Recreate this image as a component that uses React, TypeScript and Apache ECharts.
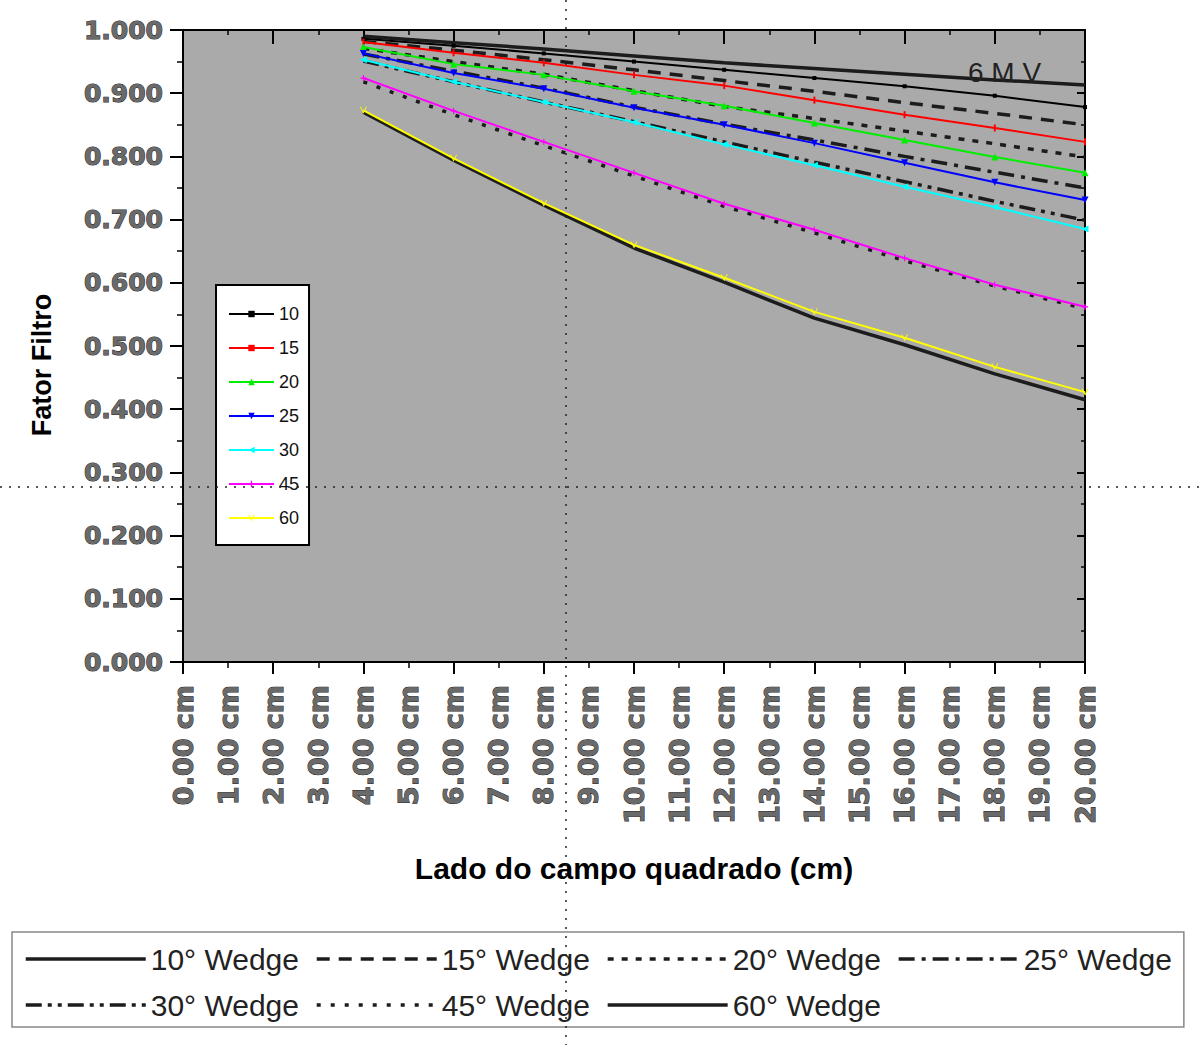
import React, { useEffect, useRef } from "react";
import * as echarts from "echarts";

// Field side (cm) where points were measured
const fieldSizes = [4, 6, 8, 10, 12, 14, 16, 18, 20];

// Measured series (coloured)
const measuredNames = ["10", "15", "20", "25", "30", "45", "60"];
const m10 = [0.986, 0.975, 0.963, 0.95, 0.937, 0.924, 0.911, 0.896, 0.878];
const m15 = [0.981, 0.964, 0.948, 0.929, 0.912, 0.889, 0.866, 0.845, 0.823];
const m20 = [0.973, 0.946, 0.929, 0.903, 0.88, 0.853, 0.826, 0.799, 0.774];
const m25 = [0.963, 0.932, 0.907, 0.877, 0.85, 0.821, 0.79, 0.759, 0.731];
const m30 = [0.953, 0.918, 0.886, 0.854, 0.819, 0.786, 0.752, 0.72, 0.685];
const m45 = [0.924, 0.872, 0.823, 0.774, 0.725, 0.684, 0.639, 0.597, 0.562];
const m60 = [0.873, 0.797, 0.726, 0.66, 0.608, 0.554, 0.513, 0.467, 0.427];

// Reference wedge curves (black)
const wedgeNames = [
  "10° Wedge",
  "15° Wedge",
  "20° Wedge",
  "25° Wedge",
  "30° Wedge",
  "45° Wedge",
  "60° Wedge",
];
const w10 = [0.99, 0.98, 0.97, 0.959, 0.948, 0.939, 0.93, 0.921, 0.913];
const w15 = [0.982, 0.968, 0.953, 0.937, 0.92, 0.903, 0.885, 0.868, 0.85];
const w20 = [0.971, 0.95, 0.93, 0.904, 0.879, 0.86, 0.84, 0.82, 0.799];
const w25 = [0.962, 0.935, 0.908, 0.878, 0.851, 0.826, 0.8, 0.775, 0.75];
const w30 = [0.951, 0.918, 0.886, 0.855, 0.823, 0.791, 0.76, 0.729, 0.699];
const w45 = [0.918, 0.866, 0.817, 0.769, 0.721, 0.679, 0.635, 0.595, 0.559];
const w60 = [0.87, 0.794, 0.723, 0.655, 0.601, 0.544, 0.502, 0.456, 0.415];

// Axis tick label values
const xLabelValues = [0, 1, 2, 3, 4, 5, 6, 7, 8, 9, 10, 11, 12, 13, 14, 15, 16, 17, 18, 19, 20];

const measuredValues = [m10, m15, m20, m25, m30, m45, m60];
const wedgeValues = [w10, w15, w20, w25, w30, w45, w60];

const measuredColors = ["#000000", "#ff0000", "#00ee00", "#0000ff", "#00ffff", "#ff00ff", "#ffff00"];
const measuredSymbols: any[] = [
  { symbol: "rect", size: 4, rotate: 0 },
  { symbol: "rect", size: [2, 7], rotate: 0 },
  { symbol: "triangle", size: 7, rotate: 0 },
  { symbol: "triangle", size: 7, rotate: 180 },
  { symbol: "triangle", size: 7, rotate: 90 },
  { symbol: "path://M4 0H6V4H10V6H6V10H4V6H0V4H4Z", size: 6, rotate: 0 },
  { symbol: "path://M0 0L5 8L10 0L8.6 0L5 5.6L1.4 0Z", size: 7, rotate: 0 },
];
const wedgeDash: any[] = [
  "solid",
  [13, 9],
  [6, 8],
  [16, 7, 4, 7],
  [16, 6, 4, 6, 4, 6],
  [4, 10],
  "solid",
];

const pairs = (ys: number[]) => fieldSizes.map((x, i) => [x, ys[i]]);

export default function App() {
  const ref = useRef<HTMLDivElement>(null);
  useEffect(() => {
    const chart = echarts.init(ref.current!, null, { renderer: "svg" });
    const labelFont = {
      fontFamily: "DejaVu Sans",
      fontWeight: "bold" as const,
      color: "#6a6a6a",
      textBorderColor: "#1a1a1a",
      textBorderWidth: 1,
    };
    const wedgeSeries = wedgeNames.map((name, i) => ({
      name,
      type: "line",
      data: pairs(wedgeValues[i]),
      symbol: "none",
      z: 2,
      lineStyle: { color: "#1c1c1c", width: 3.5, type: wedgeDash[i] },
      itemStyle: { color: "#1c1c1c" },
    }));
    const measuredSeries = measuredNames.map((name, i) => ({
      name,
      type: "line",
      data: pairs(measuredValues[i]),
      symbol: measuredSymbols[i].symbol,
      symbolSize: measuredSymbols[i].size,
      symbolRotate: measuredSymbols[i].rotate,
      showSymbol: true,
      z: 3,
      lineStyle: { color: measuredColors[i], width: 2 },
      itemStyle: { color: measuredColors[i] },
    }));

    const option: any = {
      animation: false,
      backgroundColor: "#ffffff",
      grid: {
        left: 183,
        right: 114,
        top: 30,
        bottom: 383,
        show: true,
        backgroundColor: "#aaaaaa",
        borderWidth: 0,
      },
      xAxis: [
        {
          type: "value",
          position: "bottom",
          min: 0,
          max: 20,
          interval: 2,
          axisLine: { show: true, onZero: false, lineStyle: { color: "#000", width: 2 } },
          axisTick: { show: true, length: 12, lineStyle: { color: "#000", width: 2 } },
          minorTick: { show: true, splitNumber: 2, length: 6, lineStyle: { color: "#000", width: 1.5 } },
          splitLine: { show: false },
          axisLabel: {
            customValues: xLabelValues,
            rotate: 90,
            margin: 23,
            fontSize: 27,
            formatter: (v: number) => v.toFixed(2) + " cm",
            ...labelFont,
          },
          name: "Lado do campo quadrado (cm)",
          nameLocation: "middle",
          nameGap: 191,
          nameTextStyle: {
            fontFamily: "Liberation Sans",
            fontWeight: "bold",
            fontSize: 30,
            color: "#000",
          },
        },
        {
          type: "value",
          position: "top",
          min: 0,
          max: 20,
          interval: 2,
          axisLine: { show: true, onZero: false, lineStyle: { color: "#000", width: 2 } },
          axisTick: { show: true, inside: true, length: 14, lineStyle: { color: "#000", width: 2 } },
          minorTick: { show: true, splitNumber: 2, length: 5, lineStyle: { color: "#000", width: 1.5 } },
          splitLine: { show: false },
          axisLabel: { show: false },
        },
      ],
      yAxis: [
        {
          type: "value",
          position: "left",
          min: 0,
          max: 1,
          interval: 0.1,
          axisLine: { show: true, onZero: false, lineStyle: { color: "#000", width: 2 } },
          axisTick: { show: true, length: 13, lineStyle: { color: "#000", width: 2 } },
          minorTick: { show: true, splitNumber: 2, length: 6, lineStyle: { color: "#000", width: 1.5 } },
          splitLine: { show: false },
          axisLabel: {
            margin: 20,
            fontSize: 25,
            formatter: (v: number) => v.toFixed(3),
            ...labelFont,
          },
          name: "Fator Filtro",
          nameLocation: "middle",
          nameGap: 128,
          nameTextStyle: {
            fontFamily: "Liberation Sans",
            fontWeight: "bold",
            fontSize: 27,
            color: "#000",
            padding: [0, 38, 0, 0],
          },
        },
        {
          type: "value",
          position: "right",
          min: 0,
          max: 1,
          interval: 0.1,
          axisLine: { show: true, onZero: false, lineStyle: { color: "#000", width: 2 } },
          axisTick: { show: true, inside: true, length: 8, lineStyle: { color: "#000", width: 2 } },
          minorTick: { show: true, splitNumber: 2, length: 4, lineStyle: { color: "#000", width: 1.5 } },
          splitLine: { show: false },
          axisLabel: { show: false },
        },
      ],
      legend: [
        {
          data: measuredNames,
          orient: "vertical",
          left: 216,
          top: 285,
          padding: [20, 10, 18, 12],
          itemWidth: 45,
          itemHeight: 8,
          itemGap: 16,
          backgroundColor: "#ffffff",
          borderColor: "#000",
          borderWidth: 2,
          selectedMode: false,
          lineStyle: { width: 2 },
          textStyle: { fontFamily: "Liberation Sans", fontSize: 18, color: "#111" },
        },
        {
          data: wedgeNames,
          orient: "horizontal",
          left: 12,
          top: 932,
          width: 1160,
          padding: [12, 12, 7, 12],
          itemWidth: 120,
          itemHeight: 36,
          itemGap: 16,
          borderColor: "#888",
          borderWidth: 1.5,
          selectedMode: false,
          itemStyle: { opacity: 0, borderWidth: 0 },
          lineStyle: { width: 3.5 },
          textStyle: { fontFamily: "Liberation Sans", fontSize: 30, color: "#222" },
        },
      ],
      graphic: [
        {
          type: "text",
          left: 968,
          top: 58,
          z: 50,
          style: { text: "6 M V", fontFamily: "Liberation Sans", fontSize: 28, fill: "#222" },
        },
        {
          type: "line",
          z: 100,
          shape: { x1: 566, y1: 0, x2: 566, y2: 1045 },
          style: { stroke: "#222", lineWidth: 1.5, lineDash: [2, 7] },
        },
        {
          type: "line",
          z: 100,
          shape: { x1: 0, y1: 487, x2: 1199, y2: 487 },
          style: { stroke: "#222", lineWidth: 1.5, lineDash: [2, 7] },
        },
      ],
      series: [...wedgeSeries, ...measuredSeries],
    };
    chart.setOption(option);
    return () => chart.dispose();
  }, []);
  return (
    <div
      ref={ref}
      style={{ position: "fixed", left: 0, top: 0, width: 1199, height: 1045, background: "#fff" }}
    />
  );
}
